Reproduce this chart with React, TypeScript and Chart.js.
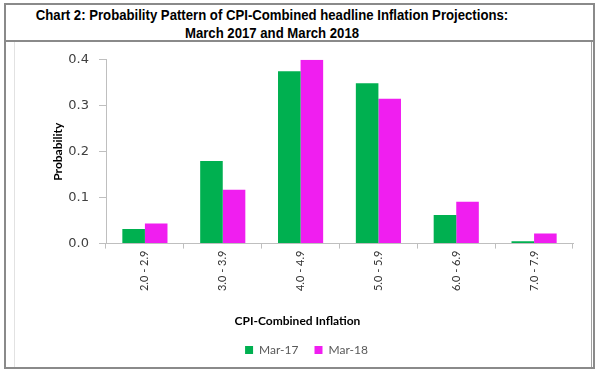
import React, { useEffect, useRef } from "react";
import { Chart, registerables } from "chart.js";

Chart.register(...registerables);

const categories = ["2.0 - 2.9", "3.0 - 3.9", "4.0 - 4.9", "5.0 - 5.9", "6.0 - 6.9", "7.0 - 7.9"];
const mar17 = [0.032, 0.18, 0.375, 0.349, 0.062, 0.005];
const mar18 = [0.044, 0.117, 0.4, 0.315, 0.091, 0.022];
const seriesNames = ["Mar-17", "Mar-18"];
const yTicks = [0, 0.1, 0.2, 0.3, 0.4];

const GREEN = "#00B050";
const MAGENTA = "#F01EF0";
const AXIS = "#BFBFBF";

const shiftPlugin = {
  id: "shiftBlocks",
  afterLayout(chart: any) {
    if (chart.legend) {
      chart.legend.left += 13;
      chart.legend.right += 13;
      if (chart.legend.adjustHitBoxes) chart.legend.adjustHitBoxes();
    }
    if (chart.titleBlock) {
      chart.titleBlock.left += 4;
      chart.titleBlock.right += 4;
    }
  },
};

export default function App() {
  const ref = useRef<HTMLCanvasElement | null>(null);

  useEffect(() => {
    if (!ref.current) return;
    const chart = new Chart(ref.current, {
      type: "bar",
      data: {
        labels: categories,
        datasets: [
          { label: seriesNames[0], data: mar17, backgroundColor: GREEN, borderWidth: 0 },
          { label: seriesNames[1], data: mar18, backgroundColor: MAGENTA, borderWidth: 0 },
        ],
      },
      plugins: [shiftPlugin],
      options: {
        animation: false,
        responsive: false,
        devicePixelRatio: 1,
        layout: { padding: { left: 0, right: 18, top: 15, bottom: 0 } },
        datasets: { bar: { categoryPercentage: 0.58, barPercentage: 1 } },
        scales: {
          x: {
            grid: { display: true, drawOnChartArea: false, drawTicks: true, tickLength: 5, color: AXIS, offset: true },
            border: { display: true, color: AXIS, width: 1 },
            ticks: {
              autoSkip: false,
              minRotation: 90,
              maxRotation: 90,
              padding: 2,
              color: "#333333",
              font: { family: "Lato", size: 11 },
            },
            afterFit: (s: any) => {
              s.height = 70;
            },
          },
          y: {
            min: 0,
            max: 0.4,
            afterBuildTicks: (s: any) => {
              s.ticks = yTicks.map((v) => ({ value: v }));
            },
            grid: { display: true, drawOnChartArea: false, drawTicks: true, tickLength: 7, color: AXIS },
            border: { display: true, color: AXIS, width: 1 },
            ticks: {
              padding: 10,
              color: "#404040",
              font: { family: "DejaVu Sans", size: 13 },
              callback: (v: any) => Number(v).toFixed(1),
            },
            title: {
              display: true,
              text: "Probability",
              color: "#000",
              font: { family: "Lato", size: 12, weight: "bold" },
              padding: { top: 37, bottom: 0 },
            },
            afterFit: (s: any) => {
              s.width = 92;
            },
          },
        },
        plugins: {
          title: {
            display: true,
            text: "CPI-Combined Inflation",
            position: "bottom",
            color: "#000",
            font: { family: "Lato", size: 12, weight: "bold" },
            padding: { top: 0, bottom: 0 },
            weight: 2000,
          },
          legend: {
            display: true,
            position: "bottom",
            weight: 3000,
            labels: {
              boxWidth: 8,
              boxHeight: 8,
              padding: 16,
              color: "#595959",
              font: { family: "Lato", size: 12 },
            },
          },
          tooltip: { enabled: false },
        },
      } as any,
    });
    return () => chart.destroy();
  }, []);

  return (
    <div style={{ position: "fixed", left: 0, top: 0, width: 602, height: 373, background: "#fff", overflow: "hidden" }}>
      <div
        style={{
          position: "absolute",
          left: 4,
          top: 3,
          width: 591,
          height: 366,
          boxSizing: "border-box",
          border: "2px solid #8A8A8A",
        }}
      />
      <div style={{ position: "absolute", left: 4, top: 40, width: 591, height: 2, background: "#8A8A8A" }} />
      <div style={{ position: "absolute", left: 14, top: 42, width: 1, height: 325, background: "#E2E2E2" }} />
      <div style={{ position: "absolute", left: 591, top: 42, width: 1, height: 325, background: "#A0A0A0" }} />
      <div
        style={{
          position: "absolute",
          left: 6,
          top: 6,
          width: 532,
          textAlign: "center",
          fontFamily: "'Liberation Sans', Arial, sans-serif",
          fontWeight: "bold",
          fontSize: 14,
          lineHeight: "18px",
          color: "#000",
          transform: "scaleX(0.94)",
          transformOrigin: "center",
          whiteSpace: "nowrap",
        }}
      >
        Chart 2: Probability Pattern of CPI-Combined headline Inflation Projections:
        <br />
        March 2017 and March 2018
      </div>
      <canvas
        ref={ref}
        width={577}
        height={324}
        style={{ position: "absolute", left: 14, top: 42, width: 577, height: 324 }}
      />
    </div>
  );
}
